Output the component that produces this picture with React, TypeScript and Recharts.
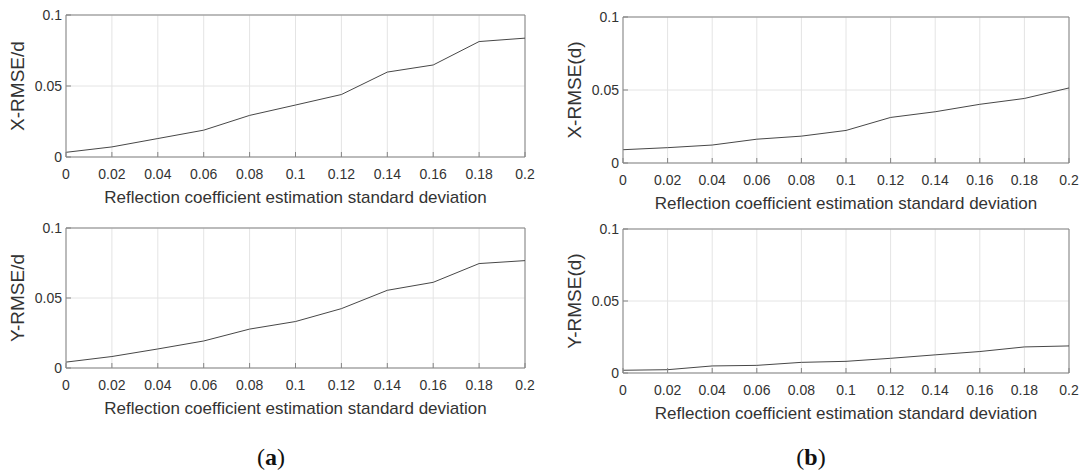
import { LineChart, Line, XAxis, YAxis, CartesianGrid, ReferenceLine } from 'recharts';

const sigma = [0, 0.02, 0.04, 0.06, 0.08, 0.1, 0.12, 0.14, 0.16, 0.18, 0.2];
const xTicks = [0, 0.02, 0.04, 0.06, 0.08, 0.1, 0.12, 0.14, 0.16, 0.18, 0.2];
const yTicks = [0, 0.05, 0.1];

const xRmseA = [0.0033, 0.0071, 0.013, 0.0189, 0.0293, 0.0366, 0.044, 0.0598, 0.0648, 0.0813, 0.0837];
const yRmseA = [0.0042, 0.0082, 0.0136, 0.0193, 0.0278, 0.0332, 0.0424, 0.0555, 0.0612, 0.0746, 0.0767];
const xRmseB = [0.0091, 0.0105, 0.0123, 0.0163, 0.0184, 0.0223, 0.0312, 0.0351, 0.0402, 0.0442, 0.0514];
const yRmseB = [0.0019, 0.0023, 0.0049, 0.0053, 0.0074, 0.0081, 0.0102, 0.0126, 0.0149, 0.0181, 0.0188];

const xTitle = 'Reflection coefficient estimation standard deviation';

const AXIS = '#858585';
const TEXT = '#333333';
const FONT = '"Liberation Sans", Arial, sans-serif';

type PanelProps = {
  values: number[];
  yLabel: string;
  box: [number, number, number, number]; // plot area: left, top, right, bottom
};

function Panel({ values, yLabel, box }: PanelProps) {
  const [x0, y0, x1, y1] = box;
  const data = sigma.map((s, i) => ({ s, v: values[i] }));
  const yw = 70;
  const xh = 60;
  const mt = 10;
  const mr = 16;
  return (
    <div style={{ position: 'absolute', left: x0 - yw, top: y0 - mt }}>
      <LineChart
        width={x1 - x0 + yw + mr}
        height={y1 - y0 + mt + xh}
        data={data}
        margin={{ top: mt, right: mr, left: 0, bottom: 0 }}
        style={{ fontFamily: FONT }}
      >
        <CartesianGrid stroke="#e4e4e4" strokeWidth={1} />
        <XAxis
          dataKey="s"
          type="number"
          domain={[0, 0.2]}
          ticks={xTicks}
          interval={0}
          height={xh}
          stroke={AXIS}
          tickSize={-5}
          tickMargin={17}
          tick={{ fontSize: 14, fill: TEXT }}
          label={{ value: xTitle, position: 'insideBottom', offset: 14, fontSize: 17, fill: TEXT }}
        />
        <YAxis
          type="number"
          domain={[0, 0.1]}
          ticks={yTicks}
          interval={0}
          width={yw}
          stroke={AXIS}
          tickSize={-5}
          tickMargin={9}
          tick={{ fontSize: 14, fill: TEXT }}
          label={{
            value: yLabel,
            angle: -90,
            position: 'insideLeft',
            offset: 21,
            fontSize: 19,
            fill: TEXT,
            style: { textAnchor: 'middle' },
          }}
        />
        {/* top and right edges of the MATLAB-style box */}
        <ReferenceLine y={0.1} stroke={AXIS} strokeWidth={1} ifOverflow="visible" />
        <ReferenceLine x={0.2} stroke={AXIS} strokeWidth={1} ifOverflow="visible" />
        <Line
          dataKey="v"
          type="linear"
          stroke="#474747"
          strokeWidth={1}
          dot={false}
          isAnimationActive={false}
        />
      </LineChart>
    </div>
  );
}

function Caption({ letter, x }: { letter: string; x: number }) {
  return (
    <div
      style={{
        position: 'absolute',
        left: x - 50,
        top: 442,
        width: 100,
        textAlign: 'center',
        fontFamily: '"Liberation Serif", "DejaVu Serif", serif',
        fontSize: 24,
        color: '#111',
        lineHeight: '30px',
      }}
    >
      (<b>{letter}</b>)
    </div>
  );
}

export default function App() {
  return (
    <div
      style={{
        position: 'absolute',
        left: 0,
        top: 0,
        width: 1082,
        height: 473,
        background: '#fff',
        overflow: 'hidden',
      }}
    >
      <Panel values={xRmseA} yLabel="X-RMSE/d" box={[66, 15, 525, 157]} />
      <Panel values={yRmseA} yLabel="Y-RMSE/d" box={[66, 228, 525, 368]} />
      <Panel values={xRmseB} yLabel="X-RMSE(d)" box={[623, 17, 1069, 163]} />
      <Panel values={yRmseB} yLabel="Y-RMSE(d)" box={[623, 229, 1069, 373]} />
      <Caption letter="a" x={271} />
      <Caption letter="b" x={811} />
    </div>
  );
}
